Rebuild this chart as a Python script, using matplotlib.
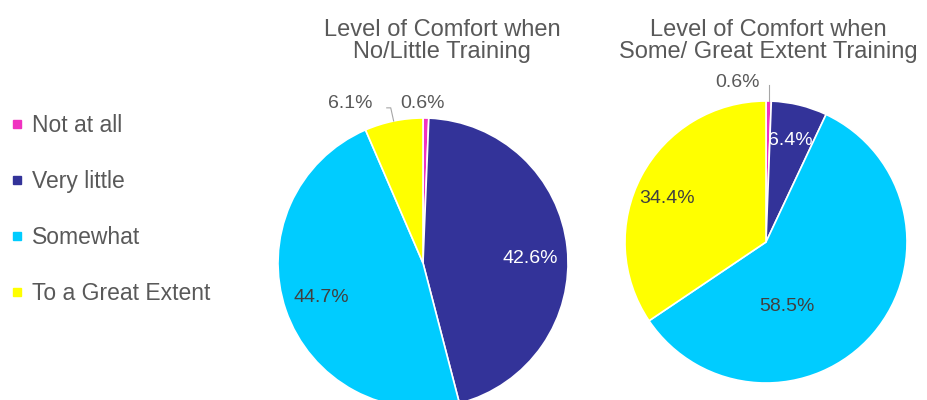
import numpy as np
import matplotlib
matplotlib.use("Agg")
import matplotlib.pyplot as plt
from matplotlib.lines import Line2D

plt.rcParams['font.family'] = ['Liberation Sans', 'DejaVu Sans']

# data
categories = ['Not at all', 'Very little', 'Somewhat', 'To a Great Extent']
no_little = [0.6, 42.6, 44.7, 6.1]
some_great = [0.6, 6.4, 58.5, 34.4]
titles = ['Level of Comfort when\nNo/Little Training',
          'Level of Comfort when\nSome/ Great Extent Training']

colors = ['#f032c0', '#333399', '#00ccff', '#ffff00']
gray = '#595959'
dark = '#404040'

W, H = 928, 400
fig = plt.figure(figsize=(W / 100, H / 100), dpi=100)

def pie_axes(cx, cy, r, pad=1.35):
    # cx, cy in pixels from top-left, r in pixels
    ax = fig.add_axes([(cx - pad * r) / W, (H - cy - pad * r) / H,
                       2 * pad * r / W, 2 * pad * r / H])
    ax.axis('off')
    return ax

def draw_pie(ax, vals, text_colors, special):
    wedges, _ = ax.pie(vals, colors=colors, startangle=90, counterclock=False,
                       radius=1.0, normalize=True,
                       wedgeprops=dict(edgecolor='white', linewidth=1.2))
    ax.set_xlim(-1.35, 1.35)
    ax.set_ylim(-1.35, 1.35)
    for i, (w, v) in enumerate(zip(wedges, vals)):
        mid = np.deg2rad((w.theta1 + w.theta2) / 2)
        if i in special:
            x, y = special[i]
        else:
            x, y = 0.74 * np.cos(mid), 0.74 * np.sin(mid)
        ax.text(x, y, f'{v:.1f}%', ha='center', va='center',
                fontsize=14, color=text_colors[i])
    return wedges

# pie 1
ax1 = pie_axes(423, 263, 145)
w1 = draw_pie(ax1, no_little, [gray, 'white', dark, gray],
              {0: (0.0, 1.10), 1: (0.74, 0.03), 3: (-0.50, 1.10)})
m = np.deg2rad((w1[3].theta1 + w1[3].theta2) / 2)
ax1.plot([np.cos(m), np.cos(m) - 0.02, -0.25],
         [np.sin(m), 1.07, 1.07], color='#a6a6a6', lw=0.8, clip_on=False)

# pie 2
ax2 = pie_axes(766, 242, 141)
w2 = draw_pie(ax2, some_great, [gray, 'white', dark, dark],
              {0: (-0.20, 1.13), 2: (0.15, -0.46), 3: (-0.70, 0.31)})
m = np.deg2rad((w2[0].theta1 + w2[0].theta2) / 2)
ax2.plot([np.cos(m), np.cos(m)], [np.sin(m), 1.11],
         color='#a6a6a6', lw=0.8, clip_on=False)

fig.text(442 / W, 1 - 41 / H, titles[0], ha='center', va='center',
         fontsize=17, color=gray, linespacing=1.0)
fig.text(768 / W, 1 - 41 / H, titles[1], ha='center', va='center',
         fontsize=17, color=gray, linespacing=1.0)

handles = [Line2D([], [], marker='s', ls='none', markersize=5.5,
                  markerfacecolor=c, markeredgecolor=c) for c in colors]
fig.legend(handles, categories, loc='upper left',
           bbox_to_anchor=(0, 1 - 105 / H), frameon=False,
           fontsize=16.5, labelcolor=gray, labelspacing=1.44,
           handlelength=0.7, handletextpad=0.3, borderaxespad=0)

fig.savefig('out.png', dpi=100, facecolor='white')
